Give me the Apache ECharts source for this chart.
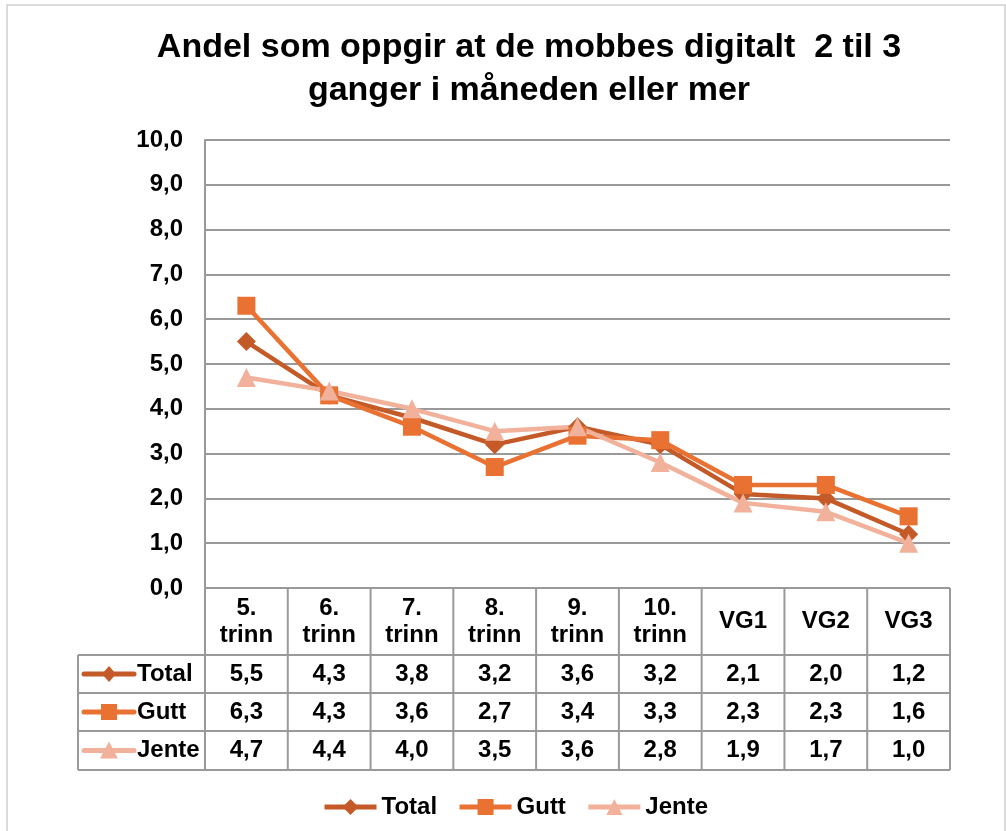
<!DOCTYPE html>
<html>
<head>
<meta charset="utf-8">
<script src="https://cdn.jsdelivr.net/npm/echarts@6/dist/echarts.min.js"></script>
<style>
  html, body { margin: 0; padding: 0; background: #fff; }
  #chart { width: 1006px; height: 831px; }
</style>
</head>
<body>
<div id="chart"></div>
<script>
const categories = ['5. trinn', '6. trinn', '7. trinn', '8. trinn', '9. trinn', '10. trinn', 'VG1', 'VG2', 'VG3'];
const totalValues = [5.5, 4.3, 3.8, 3.2, 3.6, 3.2, 2.1, 2.0, 1.2];
const guttValues = [6.3, 4.3, 3.6, 2.7, 3.4, 3.3, 2.3, 2.3, 1.6];
const jenteValues = [4.7, 4.4, 4.0, 3.5, 3.6, 2.8, 1.9, 1.7, 1.0];
const seriesNames = ['Total', 'Gutt', 'Jente'];

const FONT = '"Liberation Sans", Arial, sans-serif';
const colors = ['#C45A27', '#E97132', '#F1B19B'];
const symbols = ['diamond', 'rect', 'triangle'];
const rows = [totalValues, guttValues, jenteValues];

// table geometry (below the plot)
const AXIS_Y = 588;
const rowLines = [655, 693, 731, 770];
const TABLE_LEFT = 78;

const fmt = (v) => v.toFixed(1).replace('.', ',');
const boldText = { fontFamily: FONT, fontWeight: 'bold', fontSize: 24, color: '#000' };

const chart = echarts.init(document.getElementById('chart'));

const rowAxes = rows.map((vals, i) => ({
  type: 'category',
  gridIndex: 0,
  position: 'bottom',
  data: vals.map(fmt),
  axisLine: { show: false },
  axisTick: { show: false },
  axisLabel: Object.assign({
    interval: 0,
    margin: (rowLines[i] + rowLines[i + 1]) / 2 - AXIS_Y,
    verticalAlign: 'middle'
  }, boldText)
}));

chart.setOption({
  animation: false,
  title: {
    text: 'Andel som oppgir at de mobbes digitalt  2 til 3\nganger i måneden eller mer',
    left: 524,
    top: 21,
    textAlign: 'center',
    textStyle: { fontFamily: FONT, fontWeight: 'bold', fontSize: 34, lineHeight: 43, color: '#000' }
  },
  legend: {
    top: 790,
    left: 317,
    itemWidth: 52,
    itemHeight: 20,
    itemGap: 20,
    lineStyle: { width: 5 },
    textStyle: boldText,
    data: seriesNames
  },
  grid: { left: 205, right: 56, top: 140, bottom: 831 - AXIS_Y },
  xAxis: [{
    type: 'category',
    data: categories,
    boundaryGap: true,
    axisLine: { show: false },
    axisTick: { show: false },
    axisLabel: Object.assign({
      interval: 0,
      margin: (AXIS_Y + rowLines[0]) / 2 - AXIS_Y,
      verticalAlign: 'middle',
      lineHeight: 27,
      formatter: (v) => v.replace(' ', '\n')
    }, boldText)
  }].concat(rowAxes),
  yAxis: {
    type: 'value',
    min: 0,
    max: 10,
    interval: 1,
    axisLine: { show: true, lineStyle: { color: '#999', width: 2 } },
    axisTick: { show: false },
    splitLine: { lineStyle: { color: '#999', width: 2 } },
    axisLabel: Object.assign({ margin: 22, formatter: fmt }, boldText)
  },
  series: rows.map((vals, i) => ({
    name: seriesNames[i],
    type: 'line',
    data: vals,
    symbol: symbols[i],
    symbolSize: i === 1 ? 18 : 19,
    color: colors[i],
    lineStyle: { width: 4.5, color: colors[i] },
    itemStyle: { color: colors[i] }
  }))
});

// table grid lines and row headers, placed from the category scale
function drawTable() {
  const c0 = chart.convertToPixel({ xAxisIndex: 0 }, categories[0]);
  const c1 = chart.convertToPixel({ xAxisIndex: 0 }, categories[1]);
  const band = c1 - c0;
  const left = c0 - band / 2;
  const right = left + band * categories.length;
  const bottom = rowLines[rowLines.length - 1];
  const line = (x1, y1, x2, y2) => ({
    type: 'line',
    shape: { x1, y1, x2, y2 },
    style: { stroke: '#999', lineWidth: 2 },
    z: 10
  });
  const els = [];
  for (let k = 0; k <= categories.length; k++) {
    const x = left + k * band;
    els.push(line(x, AXIS_Y, x, bottom));
  }
  rowLines.forEach((y) => els.push(line(TABLE_LEFT, y, right, y)));
  els.push(line(TABLE_LEFT, rowLines[0], TABLE_LEFT, bottom));

  rows.forEach((vals, i) => {
    const cy = (rowLines[i] + rowLines[i + 1]) / 2;
    const cx = 109;
    els.push({
      type: 'line',
      shape: { x1: 84, y1: cy, x2: 134, y2: cy },
      style: { stroke: colors[i], lineWidth: 5, lineCap: 'round' },
      z: 11
    });
    let mark;
    if (symbols[i] === 'diamond') {
      mark = { type: 'polygon', shape: { points: [[cx, cy - 8], [cx + 7, cy], [cx, cy + 8], [cx - 7, cy]] } };
    } else if (symbols[i] === 'rect') {
      mark = { type: 'rect', shape: { x: cx - 8, y: cy - 8, width: 16, height: 16 } };
    } else {
      mark = { type: 'polygon', shape: { points: [[cx, cy - 9], [cx + 9, cy + 8], [cx - 9, cy + 8]] } };
    }
    mark.style = { fill: colors[i] };
    mark.z = 12;
    els.push(mark);
    els.push({
      type: 'text',
      x: 137,
      y: cy,
      style: { text: seriesNames[i], verticalAlign: 'middle', align: 'left',
        font: 'bold 24px ' + FONT, fill: '#000' },
      z: 12
    });
  });

  els.push({
    type: 'rect',
    shape: { x: 7, y: 5, width: 998, height: 830 },
    style: { fill: 'none', stroke: '#d0d0d0', lineWidth: 1.5 },
    z: 1
  });

  chart.setOption({ graphic: els });
}
drawTable();
</script>
</body>
</html>
